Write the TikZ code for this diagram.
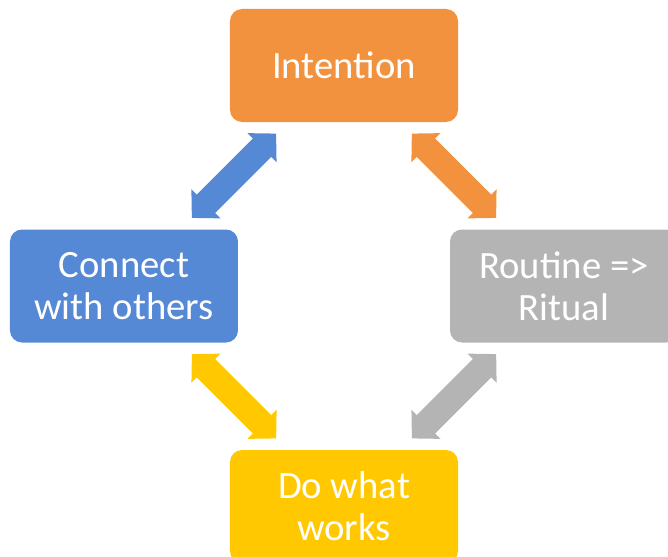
\documentclass[tikz,border=0pt]{standalone}
\usepackage{fontspec}
\setmainfont{Carlito}
\usepackage{tikz}
\usetikzlibrary{arrows.meta}
\definecolor{intentionColor}{RGB}{243, 146, 62}
\definecolor{connectColor}{RGB}{86, 137, 213}
\definecolor{routineColor}{RGB}{180, 180, 180}
\definecolor{worksColor}{RGB}{255, 200, 0}

\begin{document}
\begin{tikzpicture}[
    every node/.style={font=\fontsize{33}{35.5}\selectfont},
    stage/.style={rounded corners=0.36cm, inner sep=0pt, minimum width=6.84cm, minimum height=3.39cm, align=center, text=white},
    cycle arrow/.style={line width=0.78cm, {Triangle[length=0.6cm, width=1.2cm]}-{Triangle[length=0.6cm, width=1.2cm]}, shorten <=0.48cm, shorten >=0.48cm}
]
    \useasboundingbox (-10.32,-8.1) rectangle (9.72,8.58);

    \node [stage, fill=intentionColor] (intention) at (0, 6.615) {Intention};

    \draw (intention) ++(-6.6, -6.615) node[stage, fill=connectColor] (connect) {Connect\\with others};
    \draw (intention) ++(6.6, -6.615) node[stage, fill=routineColor] (routine) {Routine =>\\Ritual};
    \draw (intention) ++(0, -13.23) node[stage, fill=worksColor] (works) {Do what\\works};

    \draw[cycle arrow, connectColor] (connect) -- (intention);
    \draw[cycle arrow, intentionColor] (intention) -- (routine);
    \draw[cycle arrow, routineColor] (routine) -- (works);
    \draw[cycle arrow, worksColor] (works) -- (connect);
\end{tikzpicture}
\end{document}
